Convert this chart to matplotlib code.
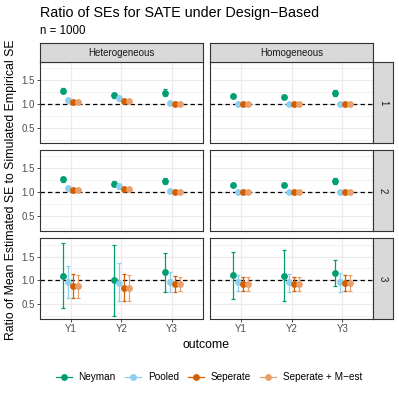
import matplotlib
matplotlib.use('Agg')
import matplotlib.pyplot as plt
from matplotlib.lines import Line2D

plt.rcParams['font.family'] = ['Liberation Sans', 'DejaVu Sans']

outcomes = ['Y1', 'Y2', 'Y3']
effects = ['Heterogeneous', 'Homogeneous']
rows = ['1', '2', '3']
methods = ['Neyman', 'Pooled', 'Seperate', 'Seperate + M\u2212est']
colors = ['#009E73', '#8DCFEE', '#D55E00', '#E9A06B']

# values: rows = methods, columns = Y1..Y3
het1_mean = [[1.28, 1.18, 1.24], [1.09, 1.12, 1.02], [1.05, 1.07, 1.00], [1.04, 1.06, 1.00]]
het1_lo = [[1.22, 1.12, 1.17], [1.07, 1.07, 1.01], [1.04, 1.05, 0.99], [1.03, 1.04, 0.99]]
het1_hi = [[1.34, 1.24, 1.31], [1.11, 1.17, 1.03], [1.06, 1.09, 1.01], [1.05, 1.08, 1.01]]
hom1_mean = [[1.16, 1.14, 1.23], [1.00, 1.00, 1.00], [1.00, 1.00, 1.00], [1.00, 1.00, 1.00]]
hom1_lo = [[1.14, 1.12, 1.16], [0.99, 0.99, 0.99], [0.99, 0.99, 0.99], [0.99, 0.99, 0.99]]
hom1_hi = [[1.18, 1.16, 1.30], [1.01, 1.01, 1.01], [1.01, 1.01, 1.01], [1.01, 1.01, 1.01]]

het2_mean = [[1.27, 1.18, 1.24], [1.09, 1.12, 1.02], [1.05, 1.07, 1.00], [1.04, 1.06, 1.00]]
het2_lo = [[1.22, 1.12, 1.18], [1.07, 1.07, 1.01], [1.04, 1.05, 0.99], [1.03, 1.04, 0.99]]
het2_hi = [[1.32, 1.24, 1.30], [1.11, 1.17, 1.03], [1.06, 1.09, 1.01], [1.05, 1.08, 1.01]]
hom2_mean = [[1.16, 1.14, 1.23], [1.00, 1.00, 1.00], [1.00, 1.00, 1.00], [1.00, 1.00, 1.00]]
hom2_lo = [[1.14, 1.12, 1.17], [0.99, 0.99, 0.99], [0.99, 0.99, 0.99], [0.99, 0.99, 0.99]]
hom2_hi = [[1.18, 1.16, 1.29], [1.01, 1.01, 1.01], [1.01, 1.01, 1.01], [1.01, 1.01, 1.01]]

het3_mean = [[1.10, 1.00, 1.17], [0.97, 0.95, 0.97], [0.88, 0.85, 0.93], [0.88, 0.85, 0.93]]
het3_lo = [[0.42, 0.26, 0.76], [0.64, 0.57, 0.76], [0.63, 0.57, 0.76], [0.64, 0.57, 0.77]]
het3_hi = [[1.79, 1.75, 1.57], [1.30, 1.36, 1.17], [1.14, 1.14, 1.09], [1.12, 1.12, 1.08]]
hom3_mean = [[1.12, 1.10, 1.16], [0.97, 0.97, 0.97], [0.93, 0.93, 0.95], [0.93, 0.93, 0.95]]
hom3_lo = [[0.60, 0.56, 0.88], [0.77, 0.76, 0.76], [0.78, 0.78, 0.78], [0.78, 0.78, 0.77]]
hom3_hi = [[1.60, 1.63, 1.42], [1.12, 1.14, 1.16], [1.08, 1.08, 1.12], [1.08, 1.08, 1.11]]

panel_data = {
    ('1', 'Heterogeneous'): (het1_mean, het1_lo, het1_hi),
    ('1', 'Homogeneous'): (hom1_mean, hom1_lo, hom1_hi),
    ('2', 'Heterogeneous'): (het2_mean, het2_lo, het2_hi),
    ('2', 'Homogeneous'): (hom2_mean, hom2_lo, hom2_hi),
    ('3', 'Heterogeneous'): (het3_mean, het3_lo, het3_hi),
    ('3', 'Homogeneous'): (hom3_mean, hom3_lo, hom3_hi),
}

W = H = 399
fig = plt.figure(figsize=(W / 100, H / 100), dpi=100)

def rect(l, t, w, h):
    return [l / W, 1 - (t + h) / H, w / W, h / H]

pw, ph, gap = 162.7, 80.6, 7.6
left0, top0 = 40, 62
strip_h, strip_w = 19, 20
dark = '#333333'
offsets = [-0.15, -0.05, 0.05, 0.15]
small = 7.0

for r, row in enumerate(rows):
    for c, eff in enumerate(effects):
        l = left0 + c * (pw + gap)
        t = top0 + r * (ph + gap)
        ax = fig.add_axes(rect(l, t, pw, ph))
        ax.set_xlim(0.4, 3.6)
        ax.set_ylim(0.19, 1.88)
        ax.set_xticks([1, 2, 3])
        ax.set_yticks([0.5, 1.0, 1.5])
        ax.set_yticks([0.25, 0.75, 1.25, 1.75], minor=True)
        ax.grid(True, which='major', color='#EBEBEB', lw=0.9)
        ax.grid(True, which='minor', axis='y', color='#EBEBEB', lw=0.45)
        ax.tick_params(which='minor', length=0)
        ax.tick_params(which='major', length=2.2, width=0.6, color=dark,
                       labelsize=small, labelcolor='#4D4D4D', pad=1.5)
        ax.set_axisbelow(True)
        for s in ax.spines.values():
            s.set_color(dark)
            s.set_linewidth(0.8)
        if r == len(rows) - 1:
            ax.set_xticklabels(outcomes)
        else:
            ax.tick_params(axis='x', length=0, labelbottom=False)
        if c == 0:
            ax.set_yticklabels(['0.5', '1.0', '1.5'])
        else:
            ax.tick_params(axis='y', length=0, labelleft=False)
        ax.axhline(1.0, color='black', lw=0.9, ls=(0, (3.5, 2.5)), zorder=1)
        mean, lo, hi = panel_data[(row, eff)]
        for m in range(len(methods)):
            xs = [i + 1 + offsets[m] for i in range(len(outcomes))]
            ys = mean[m]
            yerr = [[ys[i] - lo[m][i] for i in range(3)], [hi[m][i] - ys[i] for i in range(3)]]
            ax.errorbar(xs, ys, yerr=yerr, fmt='o', color=colors[m], ms=3.9,
                        elinewidth=0.9, capsize=1.4, capthick=0.9, zorder=3 + m)
        if r == 0:
            sax = fig.add_axes(rect(l, t - strip_h, pw, strip_h))
            sax.set_xticks([]); sax.set_yticks([])
            sax.set_facecolor('#D9D9D9')
            for s in sax.spines.values():
                s.set_color(dark); s.set_linewidth(0.8)
            sax.text(0.5, 0.5, eff, ha='center', va='center', fontsize=small,
                     color='#1A1A1A', transform=sax.transAxes)
        if c == len(effects) - 1:
            sax = fig.add_axes(rect(l + pw, t, strip_w, ph))
            sax.set_xticks([]); sax.set_yticks([])
            sax.set_facecolor('#D9D9D9')
            for s in sax.spines.values():
                s.set_color(dark); s.set_linewidth(0.8)
            sax.text(0.5, 0.5, row, ha='center', va='center', fontsize=small,
                     color='#1A1A1A', rotation=-90, transform=sax.transAxes)

fig.text(40 / W, 1 - 13 / H, 'Ratio of SEs for SATE under Design\u2212Based',
         fontsize=10.3, ha='left', va='center', color='black')
fig.text(40 / W, 1 - 31 / H, 'n = 1000', fontsize=8.3, ha='left', va='center')
fig.text(206 / W, 1 - 345 / H, 'outcome', fontsize=8.8, ha='center', va='center')
fig.text(11 / W, 1 - 190 / H, 'Ratio of Mean Estimated SE to Simulated Empirical SE',
         fontsize=8.8, ha='center', va='center', rotation=90)

handles = [Line2D([0], [0], color=colors[m], marker='o', ms=3.9, lw=0.9) for m in range(len(methods))]
fig.legend(handles, methods, loc='center', bbox_to_anchor=(209 / W, 1 - 377 / H),
           ncol=4, frameon=False, fontsize=7.2, handlelength=1.6, handletextpad=0.7,
           columnspacing=0.9)

fig.savefig('out.png', dpi=100)
